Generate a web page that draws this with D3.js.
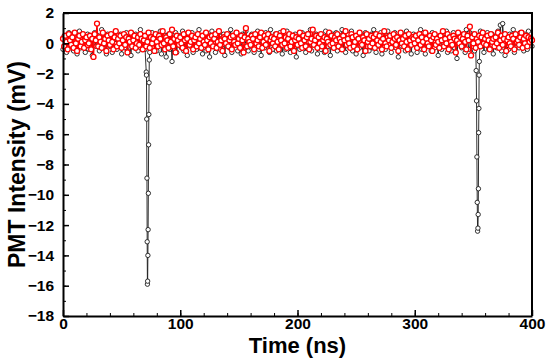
<!DOCTYPE html>
<html>
<head>
<meta charset="utf-8">
<script src="https://cdn.jsdelivr.net/npm/d3@7"></script>
<style>
  body { margin: 0; background: #fff; }
  text { font-family: "Liberation Sans", Arial, sans-serif; font-weight: bold; }
</style>
</head>
<body>
<div id="chart"></div>
<script>
// noise traces sampled every 1 ns from 0 ns (mV)
const tStart = 0, tStep = 1;

const redNoise = [
  0.3,-0.2,0.5,0.1,-0.4,0.6,0.2,-0.1,0.4,-0.3,0.7,0.0,-0.5,0.3,0.5,-0.2,0.1,0.6,-0.3,0.2,
  0.4,-0.1,0.0,0.5,-0.4,0.3,-0.9,0.6,0.2,1.3,-0.2,0.4,0.1,-0.3,0.7,0.0,0.3,-0.5,0.5,0.2,
  -0.1,0.6,0.1,-0.4,0.4,0.8,-0.2,0.3,0.0,0.5,-0.3,0.2,0.6,-0.1,0.4,-0.6,0.3,0.1,0.7,-0.2,
  0.2,0.5,-0.3,0.0,0.4,-0.1,0.6,0.3,-0.4,0.2,0.5,-0.2,0.1,0.7,-0.3,0.4,0.0,0.3,-0.5,0.6,
  0.1,-0.2,0.5,0.3,-0.1,0.8,0.0,-0.4,0.4,0.2,-0.3,0.6,0.1,0.9,-0.2,0.3,-0.6,0.5,0.2,-0.1,
  0.4,0.0,-0.3,0.6,0.2,-0.5,0.3,0.7,-0.1,0.1,0.5,-0.4,0.2,0.4,-0.2,0.6,0.0,0.3,-0.3,0.5,
  0.1,-0.1,0.7,0.2,-0.4,0.4,0.0,0.5,-0.2,0.3,0.6,-0.3,0.1,0.8,-0.1,0.2,-0.5,0.4,0.3,0.0,
  0.6,-0.2,0.2,0.4,-0.4,0.5,0.1,-0.1,0.7,0.0,0.3,-0.3,0.5,0.2,-0.6,0.4,1.0,-0.2,0.3,0.1,
  -0.1,0.5,0.3,-0.4,0.6,0.0,0.2,-0.2,0.4,0.7,-0.3,0.1,0.5,-0.1,0.3,0.6,-0.5,0.2,0.4,0.0,
  0.3,-0.2,0.6,0.1,-0.4,0.5,0.2,-0.1,0.8,0.0,0.4,-0.3,0.3,0.6,-0.2,0.1,0.5,-0.5,0.2,0.4,
  -0.1,0.3,0.7,0.0,-0.3,0.5,0.2,-0.2,0.4,0.6,-0.4,0.1,0.3,0.9,-0.1,0.2,0.5,-0.3,0.4,0.0,
  0.6,-0.2,0.2,0.4,-0.5,0.3,0.1,0.7,-0.1,0.5,0.0,-0.3,0.4,0.2,0.6,-0.2,0.3,0.1,-0.4,0.5,
  0.2,0.8,-0.1,0.3,0.0,-0.3,0.6,0.4,-0.2,0.1,0.5,-0.4,0.3,0.7,0.0,-0.1,0.4,0.2,-0.5,0.6,
  0.1,0.3,-0.2,0.5,0.0,0.4,-0.3,0.6,0.2,-0.1,0.5,0.1,-0.4,0.3,0.8,0.0,-0.2,0.4,0.2,0.5,
  -0.3,0.1,0.6,0.3,-0.1,0.4,-0.5,0.2,0.7,0.0,0.3,-0.2,0.5,0.1,-0.4,0.6,0.2,-0.1,0.4,0.3,
  0.0,0.5,-0.3,0.2,0.6,-0.1,0.4,0.1,-0.4,0.7,0.3,0.0,-0.2,0.5,0.2,-0.5,0.4,0.6,-0.1,0.3,
  0.1,-0.3,0.5,0.2,0.8,-0.2,0.3,0.0,0.6,-0.4,0.4,0.1,-0.1,0.5,0.3,-0.6,0.2,0.7,0.0,0.4,
  -0.2,0.3,0.6,0.1,-0.4,0.5,0.2,1.1,-0.8,0.4,0.0,0.6,-0.3,0.3,0.1,0.5,-0.2,0.4,0.7,0.0,
  0.3,-0.1,0.5,0.2,-0.4,0.6,0.1,0.3,-0.2,0.4,0.0,0.7,-0.3,0.2,0.5,-0.1,0.3,0.6,-0.5,0.2,
  0.4,0.0,-0.2,0.5,0.3,-0.4,0.6,0.1,0.2,-0.1,0.4,0.7,-0.3,0.3,0.0,0.5,-0.2,0.4,0.1,0.3,
  0.2
];

const blackNoise = [
  -0.4,0.5,0.1,-0.6,0.3,0.7,-0.2,0.0,0.6,-0.5,0.2,0.4,-0.7,0.1,0.8,-0.3,0.3,-0.1,0.5,-0.6,
  0.2,0.6,-0.4,0.0,0.4,-0.8,0.3,0.7,-0.2,0.1,0.5,-0.5,0.2,0.9,-0.3,0.0,0.4,-0.7,0.6,0.1,
  -0.2,0.3,-0.6,0.5,0.0,0.8,-0.4,0.2,-0.1,0.6,-0.7,0.3,0.1,-0.3,0.7,-0.5,0.4,0.0,-0.8,0.5,
  0.2,-0.3,0.6,0.1,-0.5,0.4,0.9,-0.2,0.0,0.3,-0.4,-0.2,0.0,0.0,-0.6,0.2,0.7,-0.3,0.1,0.4,
  -0.5,0.3,0.0,0.8,-0.7,0.2,-0.2,0.5,-0.9,0.1,0.6,-0.4,0.3,-1.2,0.4,-0.1,0.7,-0.6,0.2,0.0,
  0.5,-0.3,0.8,-0.5,0.1,0.4,-0.8,0.6,0.0,-0.2,0.7,-0.6,0.3,0.1,-0.4,0.5,0.9,-0.3,0.2,-0.7,
  0.4,0.0,-0.5,0.6,0.2,-0.9,0.3,0.8,-0.2,0.1,-0.6,0.5,0.0,0.7,-0.4,0.3,-0.1,0.6,-0.8,0.2,
  0.0,0.5,-0.3,0.9,-0.6,0.2,0.4,-0.1,0.7,-0.5,0.1,0.3,-0.7,0.6,0.0,-0.3,0.8,0.2,-0.5,0.4,
  -0.2,0.6,0.1,-0.6,0.4,0.0,0.8,-0.4,0.2,-0.8,0.5,0.1,-0.3,0.7,-0.1,0.3,-0.6,0.9,0.0,-0.4,
  0.3,0.6,-0.5,0.1,-0.2,0.7,0.0,-0.7,0.4,0.2,-0.4,0.8,-0.1,0.3,-0.6,0.5,0.1,-0.3,0.6,-0.9,
  0.2,0.5,-0.4,0.0,0.7,-0.2,0.3,-0.6,0.6,0.1,-0.3,0.9,-0.5,0.2,0.4,-0.1,0.6,-0.7,0.3,0.0,
  -0.4,0.5,0.1,-0.6,0.8,0.2,-0.2,0.4,-0.8,0.3,0.6,-0.3,0.0,0.7,-0.5,0.2,0.5,-0.1,0.9,-0.4,
  0.1,-0.6,0.4,0.6,-0.2,0.0,0.8,-0.5,0.3,0.1,-0.7,0.5,0.2,-0.3,0.6,0.0,-0.8,0.4,0.7,-0.2,
  0.3,-0.5,0.1,0.6,-0.3,0.9,0.0,-0.6,0.4,0.2,-0.2,0.7,-0.7,0.3,0.1,-0.4,0.5,0.8,-0.1,0.2,
  -0.6,0.4,0.0,0.7,-0.3,0.2,-0.9,0.5,0.1,-0.2,0.6,0.3,-0.5,0.8,0.0,-0.3,0.4,-0.7,0.2,0.6,
  -0.1,0.3,-0.6,0.5,0.1,0.9,-0.4,0.2,0.0,-0.7,0.6,0.3,-0.2,0.4,-0.5,0.7,0.1,-0.3,0.5,0.0,
  -0.8,0.4,0.2,-0.4,0.6,0.0,-0.2,0.8,-0.6,0.3,0.1,-0.5,0.5,0.7,-0.3,0.2,-1.0,0.4,0.0,0.6,
  -0.3,0.5,0.1,-0.6,0.9,0.2,-0.4,0.7,0.3,-0.2,0.6,-0.5,-0.3,0.0,0.0,0.4,0.8,-0.2,0.5,-0.6,
  0.3,0.0,0.7,-0.4,0.2,-0.1,0.6,-0.7,0.4,0.1,-0.3,0.8,0.2,1.2,-0.5,1.3,0.0,-0.8,0.5,0.3,
  -0.4,0.6,0.1,-0.2,0.9,-0.6,0.3,0.0,0.5,-0.3,0.7,-0.1,0.2,-0.5,0.6,0.1,-0.4,0.8,0.0,0.3,
  -0.2
];

// the two PMT pulses in the black trace (finer sampling)
const spike1T = [71.0, 71.2, 71.4, 71.6, 71.8, 72.0, 72.2, 72.4, 72.6, 72.8, 73.0, 73.2, 73.4, 73.6];
const spike1V = [-1.9, -2.1, -5.0, -8.9, -13.1, -15.9, -15.7, -14.0, -12.3, -9.9, -6.7, -4.7, -2.6, -1.1];
const spike2T = [352.4, 352.7, 353.0, 353.3, 353.6, 353.9, 354.1, 354.3, 354.5, 354.7, 354.9, 355.1];
const spike2V = [-1.8, -3.8, -7.5, -10.5, -12.4, -12.2, -11.3, -9.6, -5.9, -4.3, -2.1, -1.2];

const xTicks = [0, 100, 200, 300, 400];
const yTicks = [-18, -16, -14, -12, -10, -8, -6, -4, -2, 0, 2];

// chart size
const width = 550;
const height = 363;
const margin = {top: 13, right: 18, bottom: 47, left: 63};

function buildSeries(values, spikes) {
    let pts = values.map((v, i) => ({t: tStart + i * tStep, v: v}));
    spikes.forEach(s => {
        const lo = d3.min(s.t), hi = d3.max(s.t);
        pts = pts.filter(p => p.t < lo || p.t > hi);
        s.t.forEach((t, i) => pts.push({t: t, v: s.v[i]}));
    });
    return pts.sort((a, b) => a.t - b.t);
}

const black = buildSeries(blackNoise, [{t: spike1T, v: spike1V}, {t: spike2T, v: spike2V}]);
const red = buildSeries(redNoise, []);

const x = d3.scaleLinear()
    .domain([0, 400])
    .range([margin.left, width - margin.right]);

const y = d3.scaleLinear()
    .domain([-18, 2])
    .range([height - margin.bottom, margin.top]);

const svg = d3.select("#chart")
    .append("svg")
    .attr("width", width)
    .attr("height", height);

// series: black below, red on top
const line = d3.line().x(d => x(d.t)).y(d => y(d.v));

[[black, "#1a1a1a", 0.9, 2.2], [red, "#ff0000", 1.3, 2.5]].forEach(([data, color, sw, r]) => {
    svg.append("path")
        .datum(data)
        .attr("fill", "none")
        .attr("stroke", color)
        .attr("stroke-width", sw)
        .attr("d", line);
    svg.append("g")
        .selectAll("circle")
        .data(data)
        .join("circle")
        .attr("cx", d => x(d.t))
        .attr("cy", d => y(d.v))
        .attr("r", r)
        .attr("fill", "#fff")
        .attr("stroke", color)
        .attr("stroke-width", sw);
});

// minor ticks (inward)
svg.append("g")
    .attr("transform", `translate(0,${height - margin.bottom})`)
    .call(d3.axisBottom(x).tickValues(d3.range(0, 401, 20)).tickSize(-3).tickFormat(""))
    .call(g => g.select(".domain").remove());
svg.append("g")
    .attr("transform", `translate(${margin.left},0)`)
    .call(d3.axisLeft(y).tickValues(d3.range(-18, 3, 1)).tickSize(-3).tickFormat(""))
    .call(g => g.select(".domain").remove());

// major axes
const xAxis = svg.append("g")
    .attr("transform", `translate(0,${height - margin.bottom})`)
    .call(d3.axisBottom(x).tickValues(xTicks).tickSize(-6).tickSizeOuter(0).tickPadding(2));
const yAxis = svg.append("g")
    .attr("transform", `translate(${margin.left},0)`)
    .call(d3.axisLeft(y).tickValues(yTicks).tickSize(-6).tickSizeOuter(0).tickPadding(9));

[xAxis, yAxis].forEach(g => {
    g.select(".domain").attr("stroke-width", 2);
    g.selectAll(".tick line").attr("stroke-width", 1.5);
    g.selectAll("text").attr("font-size", 15.5).attr("fill", "#000");
});
svg.selectAll(".tick line").attr("stroke", "#000");

// top and right frame
svg.append("path")
    .attr("d", `M${x(0)},${y(2)}H${x(400)}V${y(-18)}`)
    .attr("fill", "none")
    .attr("stroke", "#000")
    .attr("stroke-width", 2);

// axis titles
svg.append("text")
    .attr("x", (x(0) + x(400)) / 2)
    .attr("y", 353)
    .attr("text-anchor", "middle")
    .attr("font-size", 22)
    .text("Time (ns)");

svg.append("text")
    .attr("transform", `translate(25,${(y(2) + y(-18)) / 2}) rotate(-90)`)
    .attr("text-anchor", "middle")
    .attr("font-size", 23)
    .text("PMT Intensity (mV)");
</script>
</body>
</html>
